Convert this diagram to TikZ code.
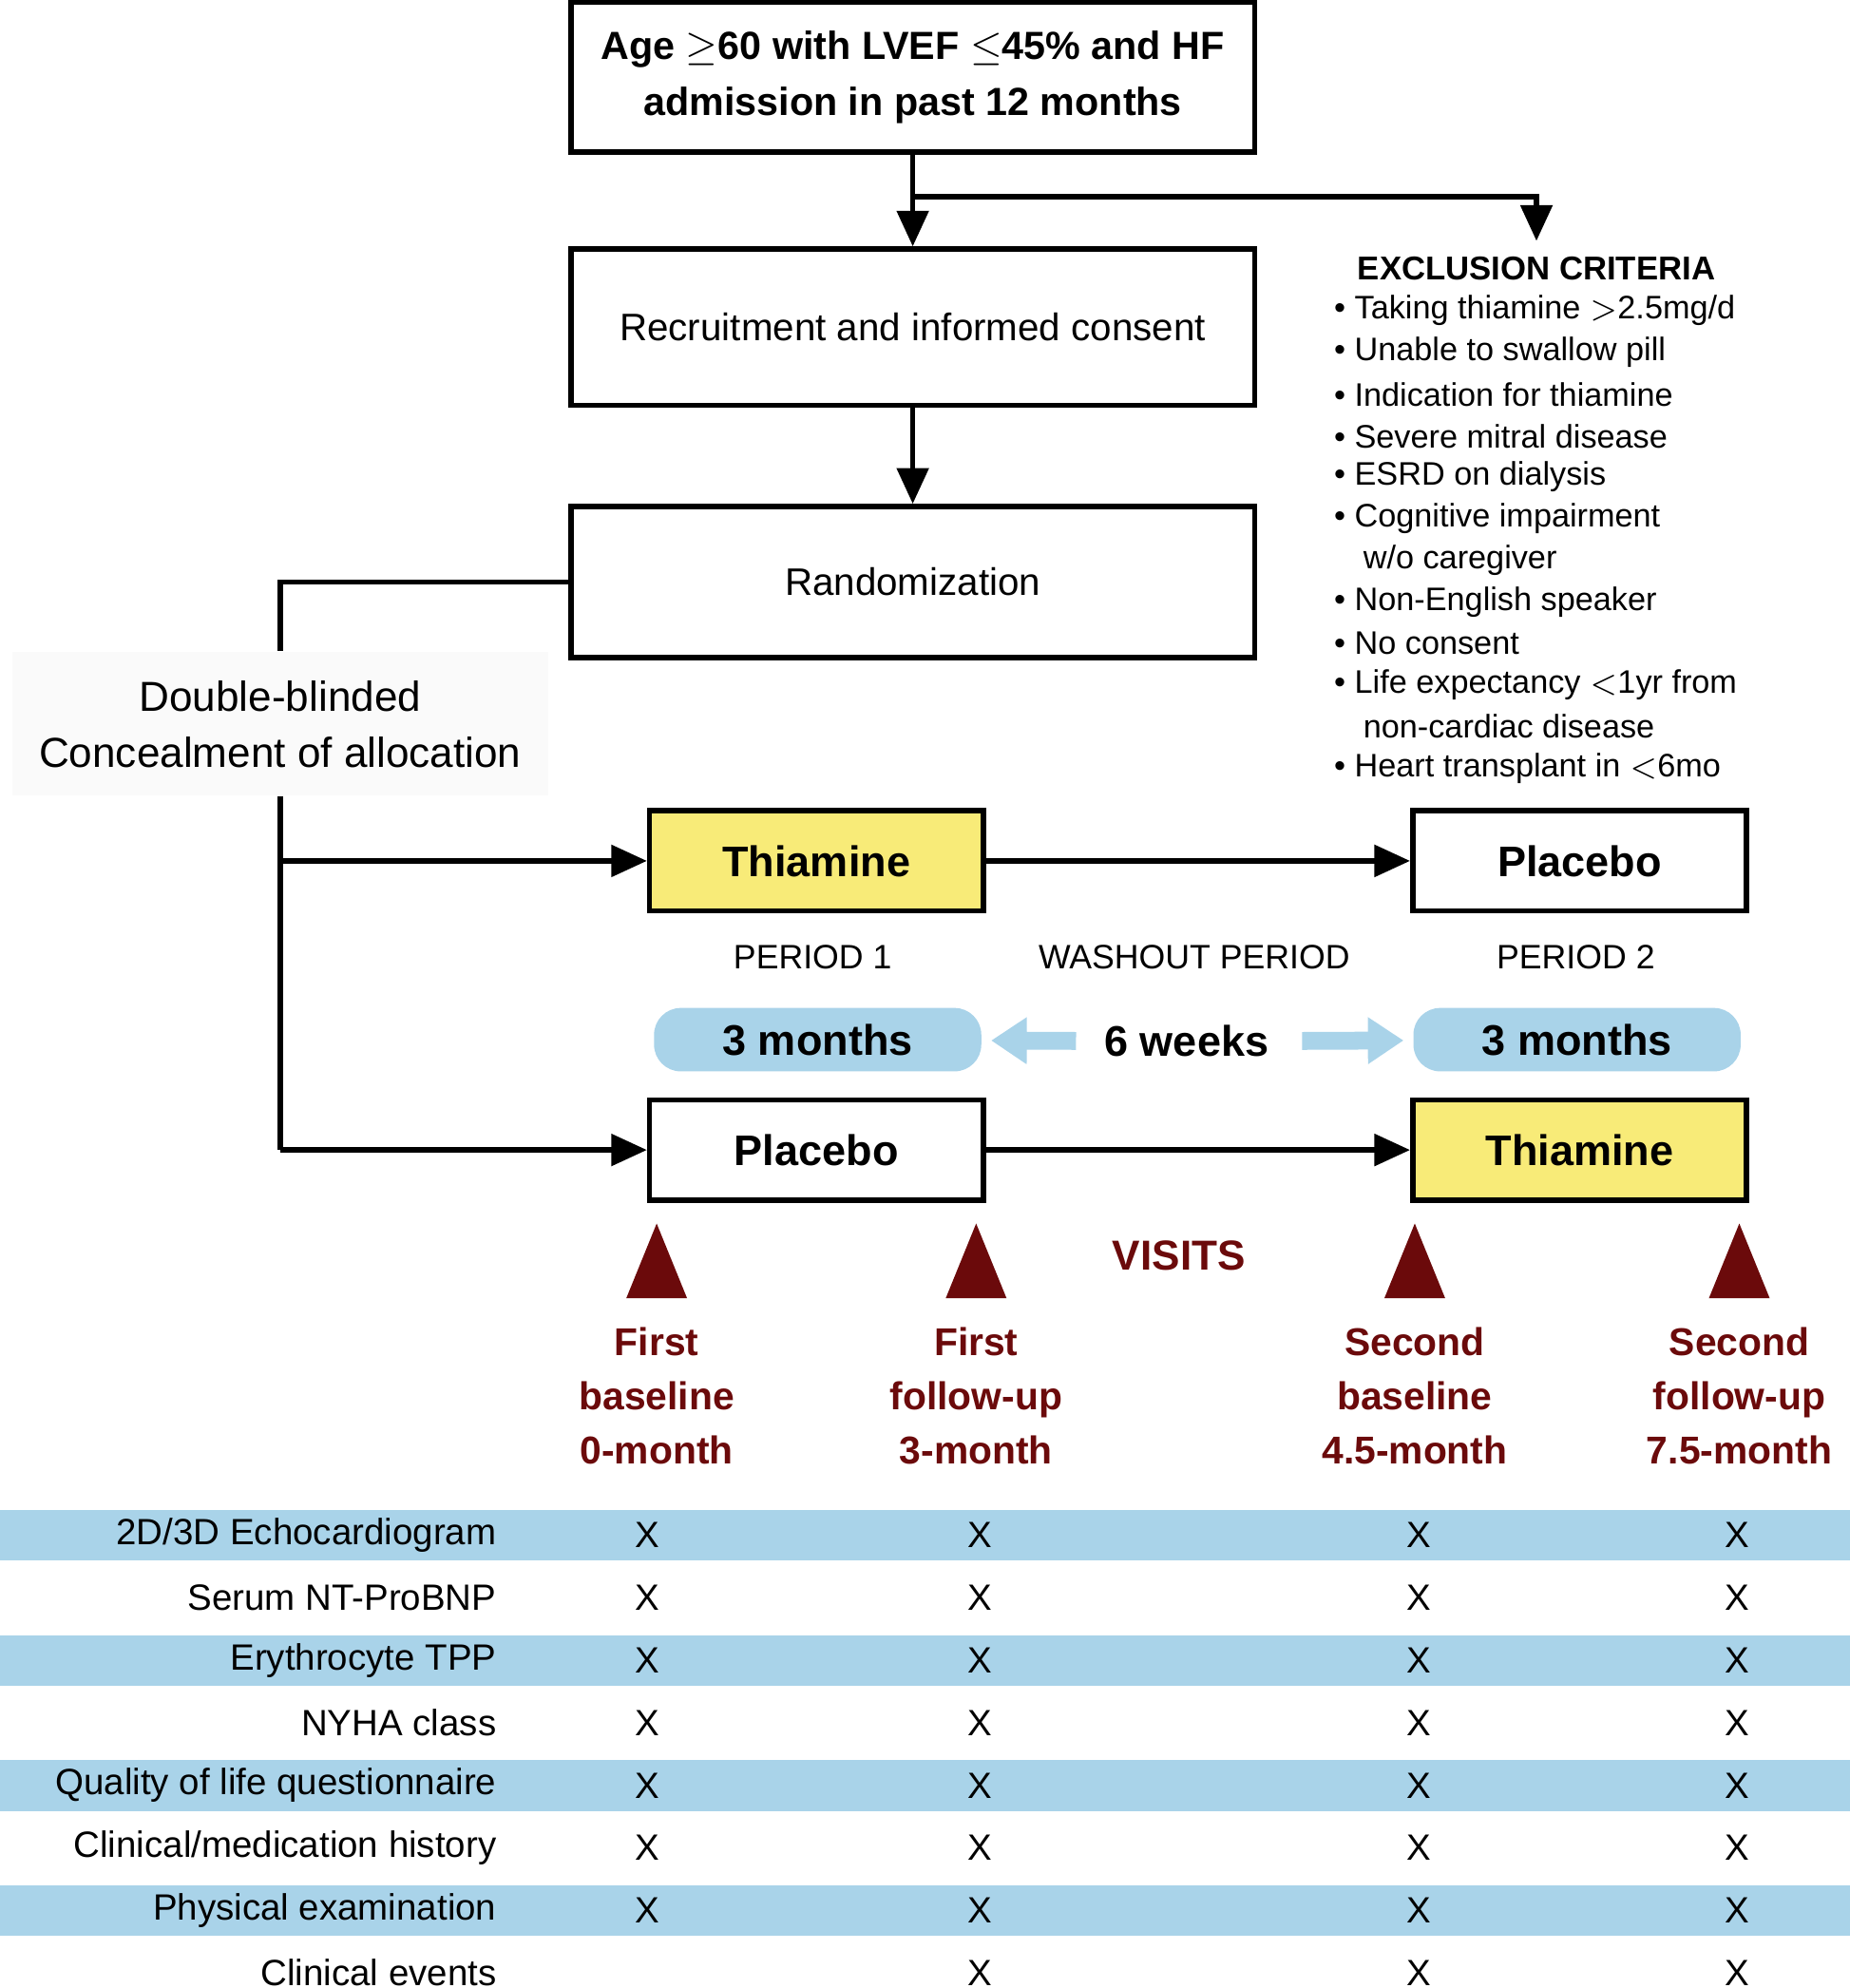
\documentclass[tikz,border=0pt]{standalone}
\usepackage{fontspec}
\setmainfont{Liberation Sans}
\usetikzlibrary{positioning,arrows.meta}
\definecolor{bandblue}{HTML}{A9D3E9}
\definecolor{drugyellow}{HTML}{F8EB78}
\definecolor{visitred}{HTML}{6B0A0B}
\begin{document}
\begin{tikzpicture}[x=0.01cm, y=-0.01cm,
  every node/.style={font=\fontsize{8.2}{10.5}\selectfont},
  box/.style={draw, line width=1.2pt, inner sep=0pt},
  drug/.style={box, minimum width=2.63cm, minimum height=0.79cm, font=\fontsize{9.6}{12}\selectfont\bfseries},
  dur/.style={fill=bandblue, rounded corners=6pt, minimum width=2.58cm, minimum height=0.5cm, font=\fontsize{9.6}{12}\selectfont\bfseries},
  visit/.style={text=visitred, font=\fontsize{8.7}{12.2}\selectfont\bfseries, align=center},
  excl/.style={anchor=west, font=\fontsize{7.3}{9.4}\selectfont},
  arr/.style={-{Triangle[length=8pt,width=7pt]}, line width=1.2pt}]
  \useasboundingbox (0,0) rectangle (1459,1568);
  % flow boxes
  \node[box, minimum width=5.39cm, minimum height=1.18cm, align=center, font=\fontsize{8.8}{12.5}\selectfont\bfseries] (elig) at (720,61) {Age $\geq$60 with LVEF $\leq$45\% and HF\\admission in past 12 months};
  \node[box, minimum width=5.39cm, minimum height=1.23cm, font=\fontsize{8.6}{10.5}\selectfont] (recr) at (720,258) {Recruitment and informed consent};
  \node[box, minimum width=5.39cm, minimum height=1.19cm, font=\fontsize{8.6}{10.5}\selectfont] (rand) at (720,459) {Randomization};
  \draw[arr] (elig) -- (recr);
  \draw[arr] (recr) -- (rand);
  \coordinate (split) at (719,155);
  \coordinate (exend) at (1212,190);
  \draw[arr] (split) -| (exend);
  % exclusion criteria
  \node[font=\fontsize{7.4}{9.4}\selectfont\bfseries] (exhead) at (1212,212) {EXCLUSION CRITERIA};
  \foreach \y/\t in {245/{Taking thiamine $>$2.5mg/d}, 278/Unable to swallow pill, 311/Indication for thiamine,
    344/Severe mitral disease, 376/ESRD on dialysis, 409/Cognitive impairment, 475/Non-English speaker,
    507/No consent, 540/Life expectancy $<$1yr from, 606/Heart transplant in $<$6mo}
    \node[excl] at (1040,\y) {\textbullet\ \t};
  \foreach \y/\t in {442/{w/o caregiver}, 573/non-cardiac disease}
    \node[excl] at (1063,\y) {\t};
  % allocation
  \node[fill=gray!4, minimum width=4.23cm, minimum height=1.13cm, align=center, font=\fontsize{9.4}{12.6}\selectfont] (blind) at (221,571) {Double-blinded\\Concealment of allocation};
  \coordinate (bl) at (221,459);
  \coordinate (br) at (221,628);
  \coordinate (bend) at (221,907);
  \draw[line width=1.2pt] (rand.west) -- (bl) -- (blind.north -| bl);
  \draw[line width=1.2pt] (blind.south -| br) -- (bend);
  \node[drug, fill=drugyellow] (thia1) at (644,679) {Thiamine};
  \node[drug] (plac2) at (1246,679) {Placebo};
  \node[drug] (plac1) at (644,907) {Placebo};
  \node[drug, fill=drugyellow] (thia2) at (1246,907) {Thiamine};
  \draw[arr] (221,679) -- (thia1);
  \draw[arr] (bend) -- (plac1);
  \draw[arr] (thia1) -- (plac2);
  \draw[arr] (plac1) -- (thia2);
  % periods
  \node[font=\fontsize{7.6}{10}\selectfont] (per1) at (641,755) {PERIOD 1};
  \node[font=\fontsize{7.6}{10}\selectfont] (wash) at (942,755) {WASHOUT PERIOD};
  \node[font=\fontsize{7.6}{10}\selectfont] (per2) at (1243,755) {PERIOD 2};
  \node[dur] (dur1) at (645,820) {3 months};
  \node[dur] (dur2) at (1244,820) {3 months};
  \node[font=\fontsize{9.6}{12}\selectfont\bfseries] (wk) at (936,821) {6 weeks};
  \draw[-{Triangle[length=8pt,width=10pt]}, line width=4pt, draw=bandblue, shorten >=2pt] (wk.west) ++(-10,0) -- (dur1);
  \draw[-{Triangle[length=8pt,width=10pt]}, line width=4pt, draw=bandblue, shorten >=2pt] (wk.east) ++(14,0) -- (dur2);
  % visits
  \node[visit, font=\fontsize{9.4}{12}\selectfont\bfseries] (visits) at (930,990) {VISITS};
  \foreach \x/\n/\t in {518/v1/First\\baseline\\0-month, 770/v2/First\\follow-up\\3-month,
    1116/v3/Second\\baseline\\4.5-month, 1372/v4/Second\\follow-up\\7.5-month} {
    \fill[visitred] (\x,965) -- (\x+24,1024) -- (\x-24,1024) -- cycle;
    \node[visit] (\n) at (\x,1101) {\t};
  }
  % schedule table
  \foreach \i/\t in {1/{2D/3D Echocardiogram}, 2/Serum NT-ProBNP, 3/Erythrocyte TPP, 4/NYHA class,
    5/Quality of life questionnaire, 6/{Clinical/medication history}, 7/Physical examination, 8/Clinical events} {
    \pgfmathsetmacro\ry{1211+49.3*(\i-1)}
    \ifodd\i \fill[bandblue] (0,\ry-20) rectangle (1459,\ry+20); \fi
    \node[anchor=east] (row\i) at (404,\ry) {\t};
    \ifnum\i<8 \node at (511,\ry) {X}; \fi
    \node at (773,\ry) {X};
    \node at (1119,\ry) {X};
    \node at (1370,\ry) {X};
  }
\end{tikzpicture}
\end{document}
